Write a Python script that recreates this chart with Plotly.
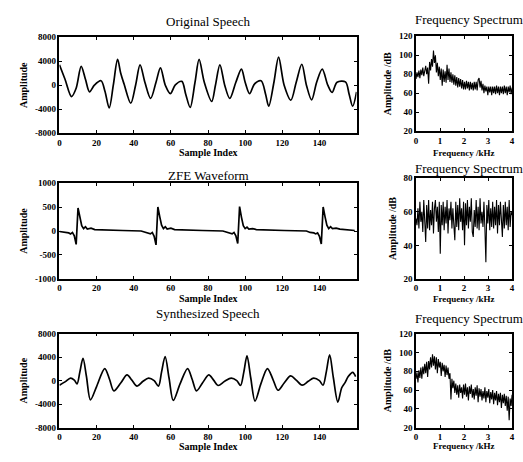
import plotly.graph_objects as go

# ---------------- data ----------------
orig_idx = [0, 3, 6.5, 9, 11.7, 14, 16.2, 18.8, 22.4, 24.5, 26.8, 29, 31.3, 33, 34.8, 38.4,
            41, 43.4, 46, 49.1, 52, 54.4, 57, 59.7, 62.4, 65.9, 68, 70.4, 73, 75.2, 78, 82,
            84, 86.4, 89, 91.7, 95, 98, 100, 102.4, 105, 108.6, 111, 112.7, 115.5, 118, 121,
            124.6, 127.5, 130.5, 133, 135.8, 138.5, 141.5, 144.5, 146.8, 149.5, 154, 156,
            157.9, 160]
orig_amp = [3400, 1000, -1900, -500, 3150, 1000, -1100, 0, 750, -1000, -3800, 0, 4300, 2000,
            200, -3000, 0, 3400, 500, -2200, 500, 2900, 0, -1400, 50, 640, -1500, -3700, 500,
            4300, 500, -2700, 0, 3400, 0, -2200, 500, 2700, 500, -1400, 200, 750, -1500, -3500,
            500, 4700, 0, -2500, 500, 3500, 0, -2450, 500, 2700, 0, -1200, 500, 550, -1500,
            -3500, -1100]

zfe_idx = [0, 3, 5, 6, 7, 8, 9, 10, 11, 12, 13, 14, 15, 17, 19, 24, 34,
           44, 46, 48, 49, 50, 51, 52, 53, 54, 55, 56, 57, 58, 60, 62, 67, 77,
           88, 90, 92, 93, 94, 95, 96, 97, 98, 99, 100, 101, 102, 104, 106, 111, 121,
           133, 135, 137, 138, 139, 140, 141, 142, 143, 144, 145, 146, 147, 149, 151, 155, 159]
zfe_amp = [-10, -20, -40, -60, -30, -100, -280, 480, 280, 110, 50, 90, 40, 60, 30, 20, 10,
           0, -20, -40, -60, -30, -110, -290, 500, 300, 120, 50, 90, 40, 60, 30, 20, 10,
           0, -20, -40, -60, -30, -100, -260, 510, 290, 110, 50, 80, 40, 50, 30, 20, 10,
           0, -30, -40, -60, -40, -110, -270, 500, 300, 120, 50, 90, 50, 60, 40, 30, 10]

synth_idx = [0, 3, 6, 8, 9.5, 11, 12.7, 14.5, 16.7, 20, 24.4, 27, 29.3, 33, 36.4, 39, 41.8,
             45, 48, 51, 53.3, 55, 56.9, 59, 61.3, 65, 69, 71.5, 73.8, 77, 80.4, 83, 85.4,
             89, 92.5, 95.5, 97.5, 99.3, 101, 103, 105.3, 108.5, 112, 115, 117.7, 121, 124.5,
             127.5, 130.7, 134, 136.9, 140, 141.9, 143.7, 145.5, 147.5, 149.9, 152, 153.8,
             155.5, 157.9, 159.5]
synth_amp = [-770, -200, 440, 100, -540, 1500, 3800, 800, -3260, -1000, 2070, 200, -1740,
             -400, 980, 100, -930, -100, 440, 0, -930, 1500, 4120, 500, -3370, -500, 2070,
             200, -1740, -400, 980, 100, -820, -100, 440, 0, -820, 1500, 4240, 500, -3470,
             -500, 2070, 200, -1630, -400, 815, 100, -770, -100, 440, 0, -770, 1500, 4400,
             500, -3640, -1200, -330, 700, 1420, 700]

orig_spec = [75, 82, 77, 84, 76, 85, 79, 87, 78, 86,
             89, 80, 87, 70, 93, 84, 96, 88, 105, 92,
             100, 82, 92, 78, 88, 74, 86, 68, 85, 72,
             83, 71, 90, 74, 86, 72, 82, 71, 80, 69,
             79, 68, 77, 66, 76, 67, 75, 65, 74, 64,
             72, 64, 73, 65, 72, 63, 72, 64, 71, 63,
             72, 64, 72, 63, 74, 76, 66, 73, 63, 70,
             60, 68, 62, 67, 58, 67, 61, 67, 58, 67,
             60, 67, 59, 68, 60, 67, 58, 67, 60, 67,
             59, 68, 60, 67, 58, 67, 61, 68, 59, 66]

zfe_spec = [56, 52, 62, 50, 66, 54, 60, 48, 67, 55,
            42, 64, 50, 67, 49, 61, 52, 66, 47, 62,
            67, 54, 63, 48, 66, 35, 64, 52, 66, 49,
            63, 53, 67, 47, 62, 55, 66, 50, 62, 52,
            43, 66, 51, 64, 49, 68, 54, 62, 49, 66,
            40, 65, 52, 67, 50, 63, 54, 68, 48, 45,
            61, 51, 67, 50, 63, 49, 68, 53, 60, 51,
            66, 50, 30, 64, 53, 67, 49, 62, 51, 66,
            50, 63, 52, 67, 47, 64, 52, 66, 51, 45,
            64, 50, 66, 52, 63, 49, 67, 51, 60, 58]

synth_spec = [72, 79, 68, 81, 73, 84, 72, 85, 77, 88,
              78, 90, 74, 91, 82, 95, 84, 98, 86, 96,
              82, 95, 78, 93, 84, 90, 75, 89, 80, 87,
              74, 86, 76, 84, 72, 78, 50, 72, 62, 70,
              57, 67, 55, 65, 52, 66, 57, 63, 51, 66,
              55, 67, 53, 63, 49, 64, 56, 66, 52, 61,
              50, 63, 54, 65, 47, 62, 53, 61, 49, 59,
              51, 63, 47, 59, 52, 61, 46, 58, 50, 60,
              45, 57, 49, 59, 44, 56, 47, 57, 41, 55,
              46, 56, 43, 54, 38, 53, 28, 51, 43, 55]

n_bins = len(orig_spec)
freq_khz = [4.0 * k / (n_bins - 1) for k in range(n_bins)]

left_titles = ["Original Speech", "ZFE Waveform", "Synthesized Speech"]
right_title = "Frequency Spectrum"
x_left_label = "Sample Index"
x_right_label = "Frequency /kHz"
sample_ticks = [0, 20, 40, 60, 80, 100, 120, 140]
freq_ticks = [0, 1, 2, 3, 4]
speech_ticks = [-8000, -4000, 0, 4000, 8000]
zfe_ticks = [-1000, -500, 0, 500, 1000]
db_ticks_wide = [20, 40, 60, 80, 100, 120]
db_ticks_zfe = [20, 40, 60, 80]

# ---------------- layout helpers ----------------
W, H = 523, 462
FONT = "Liberation Serif"

def xd(a, b):
    return [a / W, b / W]

def yd(top, bottom):
    return [1 - bottom / H, 1 - top / H]

def lab(v):
    return [str(t) for t in v]

fig = go.Figure()

left_series = [(orig_idx, orig_amp, "spline"), (zfe_idx, zfe_amp, "linear"),
               (synth_idx, synth_amp, "spline")]
right_series = [orig_spec, zfe_spec, synth_spec]
left_ranges = [[-8000, 8000], [-1000, 1000], [-8000, 8000]]
left_ticks = [speech_ticks, zfe_ticks, speech_ticks]
right_ranges = [[20, 120], [20, 80], [20, 120]]
right_ticks = [db_ticks_wide, db_ticks_zfe, db_ticks_wide]

left_rows = [(33, 131), (182, 280), (336, 432)]
right_rows = [(32, 129), (177, 280), (336, 432)]
left_title_y = [17, 174, 315]
right_title_y = [15, 167, 320]
xlabel_y = [151, 300, 451]

axis_common = dict(showline=True, linecolor="black", linewidth=1.5, mirror="ticks",
                   ticks="inside", ticklen=3, tickcolor="black", showgrid=False,
                   zeroline=False,
                   tickfont=dict(family=FONT, size=9, color="black", weight="bold"))

layout = dict(width=W, height=H, margin=dict(l=0, r=0, t=0, b=0),
              paper_bgcolor="white", plot_bgcolor="white", showlegend=False,
              font=dict(family=FONT, color="black"))
annotations = []

def note(text, xpx, ypx, size, bold=False):
    return dict(text=text, x=xpx / W, y=1 - ypx / H, xref="paper", yref="paper",
                showarrow=False, xanchor="center", yanchor="middle", borderpad=0,
                font=dict(family=FONT, size=size, color="black",
                          weight="bold" if bold else "normal"))

for r in range(3):
    li = 2 * r + 1
    ri = 2 * r + 2
    xs, ys, shape = left_series[r]
    fig.add_trace(go.Scatter(x=xs, y=ys, mode="lines",
                             line=dict(color="black", width=1.7, shape=shape, smoothing=0.9),
                             xaxis=f"x{li}", yaxis=f"y{li}"))
    fig.add_trace(go.Scatter(x=freq_khz, y=right_series[r], mode="lines",
                             line=dict(color="black", width=1.1),
                             xaxis=f"x{ri}", yaxis=f"y{ri}"))

    layout[f"xaxis{li}"] = dict(axis_common, domain=xd(58, 358), range=[0, 160],
                                tickvals=sample_ticks, ticktext=lab(sample_ticks),
                                anchor=f"y{li}")
    layout[f"yaxis{li}"] = dict(axis_common, domain=yd(*left_rows[r]), range=left_ranges[r],
                                tickvals=left_ticks[r], ticktext=lab(left_ticks[r]),
                                anchor=f"x{li}",
                                title=dict(text="Amplitude", standoff=5,
                                           font=dict(family=FONT, size=10, weight="bold")))
    layout[f"xaxis{ri}"] = dict(axis_common, domain=xd(418, 515), range=[0, 4],
                                tickvals=freq_ticks, ticktext=lab(freq_ticks),
                                anchor=f"y{ri}")
    layout[f"yaxis{ri}"] = dict(axis_common, domain=yd(*right_rows[r]), range=right_ranges[r],
                                tickvals=right_ticks[r], ticktext=lab(right_ticks[r]),
                                anchor=f"x{ri}",
                                title=dict(text="Amplitude /dB", standoff=5,
                                           font=dict(family=FONT, size=10, weight="bold")))

    annotations.append(note(left_titles[r], 208, left_title_y[r], 13))
    annotations.append(note(right_title, 472, right_title_y[r], 13))
    annotations.append(note(x_left_label, 208, xlabel_y[r], 10, bold=True))
    annotations.append(note(x_right_label, 466, xlabel_y[r], 9, bold=True))

layout["annotations"] = annotations
fig.update_layout(**layout)
fig.write_html("out.html", config={"displayModeBar": False},
               post_script="document.body.style.margin='0';document.body.style.padding='0';")
